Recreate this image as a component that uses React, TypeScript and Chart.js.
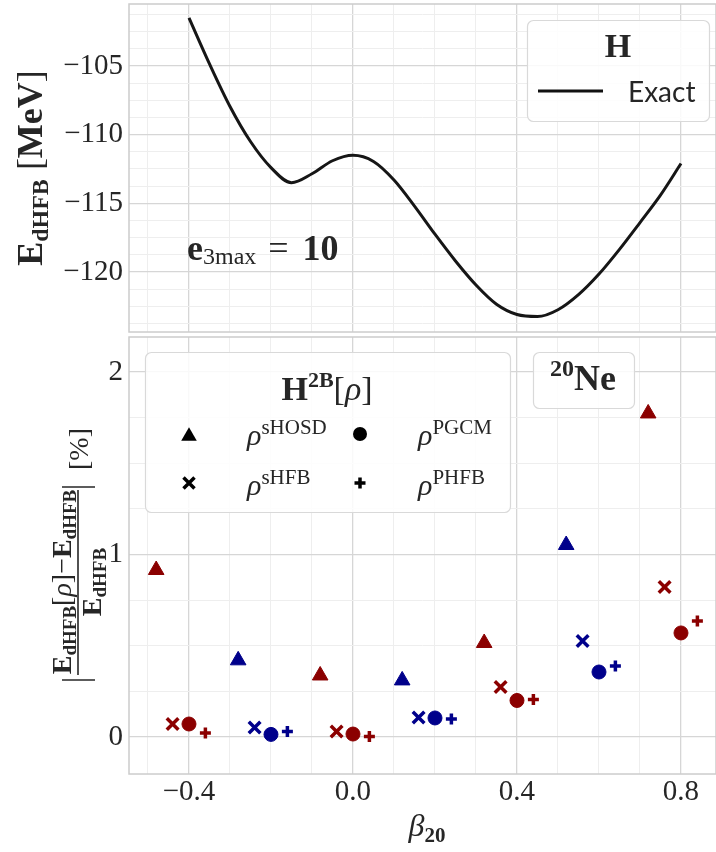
import React, { useEffect, useRef } from 'react';
import { Chart, registerables, ScatterController } from 'chart.js';

Chart.register(...registerables);
// keep the plot frame exactly where the layout puts it (markers never touch the edges)
(ScatterController.prototype as any).getMaxOverflow = function () { return 0; };

// ---------------- data ----------------
const betaCurve = [-0.4, -0.35, -0.3, -0.25, -0.2, -0.15, -0.1, -0.05, 0.0, 0.05, 0.1, 0.15, 0.2, 0.25, 0.3, 0.35, 0.4, 0.45, 0.5, 0.55, 0.6, 0.65, 0.7, 0.75, 0.8];
const energyExact = [-101.5, -104.85, -107.95, -110.5, -112.4, -113.5, -112.85, -111.9, -111.5, -111.95, -113.3, -115.2, -117.25, -119.2, -120.95, -122.35, -123.1, -123.25, -122.75, -121.65, -120.15, -118.35, -116.4, -114.4, -112.1];

const betaGroups = [-0.4, -0.2, 0.0, 0.2, 0.4, 0.6, 0.8];
const devHOSD = [0.915, 0.42, 0.337, 0.31, 0.515, 1.052, 1.773];
const devSHFB = [0.071, 0.052, 0.03, 0.107, 0.274, 0.526, 0.822];
const devPGCM = [0.071, 0.014, 0.016, 0.104, 0.2, 0.356, 0.57];
const devPHFB = [0.022, 0.03, 0.003, 0.099, 0.205, 0.389, 0.636];
const offsetHOSD = -0.08;
const offsetSHFB = -0.04;
const offsetPGCM = 0.0;
const offsetPHFB = 0.04;

const xTickLabels = [-0.4, 0.0, 0.4, 0.8];
const topYTickLabels = [-120, -115, -110, -105];
const bottomYTickLabels = [0, 1, 2];

// ---------------- style ----------------
const RED = '#8b0000';
const BLUE = '#00008b';
const colorCycle = [RED, BLUE];
const TEXT = '#262626';
const MAJOR = '#d6d6d6';
const MINOR = '#eeeeee';
const FRAME = '#cccccc';
const SERIF = '"Liberation Serif", "Times New Roman", serif';
const f = (size: number, weight = 'normal', style = 'normal') => `${style} ${weight} ${size}px ${SERIF}`;

const X_MIN = -0.5463, X_MAX = 0.8854;
const TOP_MIN = -124.37, TOP_MAX = -100.485;
const BOT_MIN = -0.203, BOT_MAX = 2.192;
const TOP_CANVAS_H = 336;
const BOT_CANVAS_H = 516;

function range(start: number, end: number, step: number, dec: number) {
  const out: number[] = [];
  for (let v = start; v <= end + 1e-9; v += step) out.push(Math.round(v * 10 ** dec) / 10 ** dec);
  return out;
}
const near = (a: number, list: number[]) => list.some((b) => Math.abs(a - b) < 1e-6);

type Seg = { t: string; f: string; dy?: number; gap?: number };
function richWidth(ctx: CanvasRenderingContext2D, segs: Seg[]) {
  let w = 0;
  for (const s of segs) { ctx.font = s.f; w += (s.gap || 0) + ctx.measureText(s.t).width; }
  return w;
}
function drawRich(ctx: CanvasRenderingContext2D, segs: Seg[], x: number, y: number, align: 'left' | 'center' | 'right' = 'left') {
  const w = richWidth(ctx, segs);
  let cx = align === 'center' ? x - w / 2 : align === 'right' ? x - w : x;
  ctx.textAlign = 'left';
  ctx.textBaseline = 'alphabetic';
  ctx.fillStyle = TEXT;
  for (const s of segs) {
    cx += s.gap || 0;
    ctx.font = s.f;
    ctx.fillText(s.t, cx, y + (s.dy || 0));
    cx += ctx.measureText(s.t).width;
  }
}
function rotated(ctx: CanvasRenderingContext2D, x: number, y: number, fn: () => void) {
  ctx.save();
  ctx.translate(x, y);
  ctx.rotate(-Math.PI / 2);
  fn();
  ctx.restore();
}
function box(ctx: CanvasRenderingContext2D, x0: number, y0: number, x1: number, y1: number) {
  ctx.save();
  ctx.beginPath();
  (ctx as any).roundRect(x0 + 0.5, y0 + 0.5, x1 - x0, y1 - y0, 6);
  ctx.fillStyle = 'rgba(255,255,255,0.85)';
  ctx.fill();
  ctx.strokeStyle = '#d9d9d9';
  ctx.lineWidth = 1.2;
  ctx.stroke();
  ctx.restore();
}
function frame(chart: any) {
  const { left, top, right, bottom } = chart.chartArea;
  const ctx = chart.ctx;
  ctx.save();
  ctx.strokeStyle = FRAME;
  ctx.lineWidth = 1.5;
  ctx.strokeRect(left, top, right - left, bottom - top);
  ctx.restore();
}
function line(ctx: CanvasRenderingContext2D, x0: number, y0: number, x1: number, y1: number, w: number, c = TEXT) {
  ctx.save();
  ctx.beginPath();
  ctx.moveTo(x0, y0);
  ctx.lineTo(x1, y1);
  ctx.strokeStyle = c;
  ctx.lineWidth = w;
  ctx.stroke();
  ctx.restore();
}
function marker(ctx: CanvasRenderingContext2D, kind: string, x: number, y: number) {
  ctx.save();
  ctx.fillStyle = '#000';
  ctx.strokeStyle = '#000';
  ctx.beginPath();
  if (kind === 'triangle') {
    const r = 9;
    ctx.moveTo(x, y - r * 0.75 - 1);
    ctx.lineTo(x + r * 0.866, y + r * 0.75 - 1);
    ctx.lineTo(x - r * 0.866, y + r * 0.75 - 1);
    ctx.closePath();
    ctx.fill();
  } else if (kind === 'circle') {
    ctx.arc(x, y, 7, 0, Math.PI * 2);
    ctx.fill();
  } else if (kind === 'x') {
    ctx.lineWidth = 3.5;
    ctx.moveTo(x - 5.5, y - 5.5); ctx.lineTo(x + 5.5, y + 5.5);
    ctx.moveTo(x + 5.5, y - 5.5); ctx.lineTo(x - 5.5, y + 5.5);
    ctx.stroke();
  } else {
    ctx.lineWidth = 3.5;
    ctx.moveTo(x - 5.5, y); ctx.lineTo(x + 5.5, y);
    ctx.moveTo(x, y - 5.5); ctx.lineTo(x, y + 5.5);
    ctx.stroke();
  }
  ctx.restore();
}

const xMinor = range(-0.5, 0.8, 0.1, 1);
const topMinor = range(-123.75, -101.25, 1.25, 2);
const botMinor = range(0, 2, 0.25, 2);

const xFmt = (v: number) => (v < 0 ? '\u2212' : '') + Math.abs(v).toFixed(1);

function xScale(showLabels: boolean, height: number) {
  return {
    type: 'linear',
    min: X_MIN,
    max: X_MAX,
    afterBuildTicks: (s: any) => { s.ticks = xMinor.map((v) => ({ value: v })); },
    afterFit: (s: any) => { s.height = height; s.paddingLeft = 0; s.paddingRight = 0; },
    border: { display: false },
    grid: {
      drawTicks: false,
      color: (c: any) => (near(c.tick.value, xTickLabels) ? MAJOR : MINOR),
      lineWidth: (c: any) => (near(c.tick.value, xTickLabels) ? 1.3 : 1),
    },
    ticks: {
      display: showLabels,
      autoSkip: false,
      maxRotation: 0,
      padding: 1,
      color: TEXT,
      font: { family: SERIF, size: 29 },
      callback: (v: number) => (near(v, xTickLabels) ? xFmt(v) : ''),
    },
  };
}
function yScale(min: number, max: number, ticks: number[], majors: number[], fmt: (v: number) => string) {
  return {
    type: 'linear',
    min,
    max,
    afterBuildTicks: (s: any) => { s.ticks = ticks.map((v) => ({ value: v })); },
    afterFit: (s: any) => { s.width = 129; s.paddingTop = 0; s.paddingBottom = 0; },
    border: { display: false },
    grid: {
      drawTicks: false,
      color: (c: any) => (near(c.tick.value, majors) ? MAJOR : MINOR),
      lineWidth: (c: any) => (near(c.tick.value, majors) ? 1.3 : 1),
    },
    ticks: {
      autoSkip: false,
      padding: 6,
      color: TEXT,
      font: { family: SERIF, size: 29 },
      callback: (v: number) => (near(v, majors) ? fmt(v) : ''),
    },
  };
}

const topPlugin = {
  id: 'topDecor',
  afterDraw(chart: any) {
    const ctx: CanvasRenderingContext2D = chart.ctx;
    frame(chart);
    rotated(ctx, 42, 168, () => {
      drawRich(ctx, [
        { t: 'E', f: f(36, 'bold') },
        { t: 'dHFB', f: f(24, 'bold'), dy: 6 },
        { t: '[', f: f(36), gap: 9 },
        { t: 'MeV', f: f(36, 'bold') },
        { t: ']', f: f(36) },
      ], 0, 0, 'center');
    });
    drawRich(ctx, [
      { t: 'e', f: f(36, 'bold') },
      { t: '3max', f: f(24), dy: 4 },
      { t: '=', f: f(36), gap: 12 },
      { t: '10', f: f(36, 'bold'), gap: 14 },
    ], 187, 260, 'left');
    box(ctx, 527, 20, 709, 121);
    drawRich(ctx, [{ t: 'H', f: f(34, 'bold') }], 618, 57, 'center');
    line(ctx, 538, 91, 603, 91, 3.2, '#111');
    ctx.save();
    ctx.font = '28px Lato, "Open Sans", sans-serif';
    ctx.fillStyle = TEXT;
    ctx.textBaseline = 'alphabetic';
    ctx.textAlign = 'left';
    ctx.fillText('Exact', 628, 102);
    ctx.restore();
  },
};

const OFF = TOP_CANVAS_H;
const bottomPlugin = {
  id: 'bottomDecor',
  afterDraw(chart: any) {
    const ctx: CanvasRenderingContext2D = chart.ctx;
    frame(chart);
    const sub = (t: string): Seg => ({ t, f: f(19, 'bold'), dy: 5 });
    rotated(ctx, 71, 582 - OFF, () => {
      drawRich(ctx, [
        { t: 'E', f: f(28, 'bold') }, sub('dHFB'),
        { t: '[', f: f(28) }, { t: '\u03c1', f: f(28, 'normal', 'italic') }, { t: ']', f: f(28) },
        { t: '\u2212', f: f(28) },
        { t: 'E', f: f(28, 'bold') }, sub('dHFB'),
      ], 0, 0, 'center');
    });
    rotated(ctx, 101, 582 - OFF, () => {
      drawRich(ctx, [{ t: 'E', f: f(28, 'bold') }, sub('dHFB')], 0, 0, 'center');
    });
    line(ctx, 78, 490 - OFF, 78, 675 - OFF, 1.6);
    line(ctx, 62, 680 - OFF, 95, 680 - OFF, 1.3);
    line(ctx, 62, 487 - OFF, 95, 487 - OFF, 1.3);
    rotated(ctx, 88, 449 - OFF, () => {
      drawRich(ctx, [{ t: '[%]', f: f(28) }], 0, 0, 'center');
    });
    drawRich(ctx, [
      { t: '\u03b2', f: f(32, 'normal', 'italic') },
      { t: '20', f: f(21, 'bold'), dy: 6 },
    ], 427, 836 - OFF, 'center');
    box(ctx, 145, 352 - OFF, 510, 512 - OFF);
    drawRich(ctx, [
      { t: 'H', f: f(34, 'bold') },
      { t: '2B', f: f(22, 'bold'), dy: -13 },
      { t: '[', f: f(34) },
      { t: '\u03c1', f: f(34, 'normal', 'italic') },
      { t: ']', f: f(34) },
    ], 327, 400 - OFF, 'center');
    marker(ctx, 'triangle', 189, 435 - OFF);
    marker(ctx, 'circle', 360, 434 - OFF);
    marker(ctx, 'x', 189, 483 - OFF);
    marker(ctx, 'plus', 360, 483 - OFF);
    const lab = (sup: string, x: number, y: number) =>
      drawRich(ctx, [
        { t: '\u03c1', f: f(30, 'normal', 'italic') },
        { t: sup, f: f(21), dy: -11 },
      ], x, y - OFF, 'left');
    lab('sHOSD', 247, 445);
    lab('PGCM', 418, 445);
    lab('sHFB', 247, 495);
    lab('PHFB', 418, 495);
    box(ctx, 533, 352 - OFF, 634, 408 - OFF);
    drawRich(ctx, [
      { t: '20', f: f(24, 'bold'), dy: -14 },
      { t: 'Ne', f: f(36, 'bold') },
    ], 583, 390 - OFF, 'center');
  },
};

function scatterSet(label: string, vals: number[], offset: number, style: string, radius: number, bw: number) {
  const cols = vals.map((_, i) => colorCycle[i % 2]);
  return {
    label,
    data: vals.map((v, i) => ({ x: betaGroups[i] + offset, y: v })),
    pointStyle: style,
    pointRadius: radius,
    pointBackgroundColor: cols,
    pointBorderColor: cols,
    pointBorderWidth: bw,
    showLine: false,
  };
}

export default function App() {
  const topRef = useRef<HTMLCanvasElement>(null);
  const botRef = useRef<HTMLCanvasElement>(null);

  useEffect(() => {
    const top = new Chart(topRef.current!, {
      type: 'line',
      data: {
        datasets: [{
          label: 'Exact',
          data: betaCurve.map((b, i) => ({ x: b, y: energyExact[i] })),
          borderColor: '#161616',
          borderWidth: 3,
          pointRadius: 0,
          cubicInterpolationMode: 'monotone',
          fill: false,
        }],
      },
      options: {
        responsive: false,
        animation: false,
        events: [],
        layout: { padding: { top: 4, bottom: 4, left: 0, right: 0 } },
        plugins: { legend: { display: false }, tooltip: { enabled: false } },
        scales: {
          x: xScale(false, 0) as any,
          y: yScale(TOP_MIN, TOP_MAX, topMinor, topYTickLabels, (v) => '\u2212' + Math.abs(v)) as any,
        },
      },
      plugins: [topPlugin],
    });

    const bot = new Chart(botRef.current!, {
      type: 'scatter',
      data: {
        datasets: [
          scatterSet('sHOSD', devHOSD, offsetHOSD, 'triangle', 9, 1),
          scatterSet('sHFB', devSHFB, offsetSHFB, 'crossRot', 8.2, 3.5),
          scatterSet('PGCM', devPGCM, offsetPGCM, 'circle', 7, 1),
          scatterSet('PHFB', devPHFB, offsetPHFB, 'cross', 5.5, 3.5),
        ] as any,
      },
      options: {
        responsive: false,
        animation: false,
        events: [],
        layout: { padding: { top: 1, bottom: 0, left: 0, right: 0 } },
        plugins: { legend: { display: false }, tooltip: { enabled: false } },
        scales: {
          x: xScale(true, BOT_CANVAS_H - (774 - TOP_CANVAS_H)) as any,
          y: yScale(BOT_MIN, BOT_MAX, botMinor, bottomYTickLabels, (v) => String(v)) as any,
        },
      },
      plugins: [bottomPlugin],
    });

    return () => { top.destroy(); bot.destroy(); };
  }, []);

  return (
    <div style={{ position: 'absolute', left: 0, top: 0, width: 716, height: 852, background: '#fff', overflow: 'hidden' }}>
      <canvas ref={topRef} width={716} height={TOP_CANVAS_H} style={{ position: 'absolute', left: 0, top: 0, display: 'block' }} />
      <canvas ref={botRef} width={716} height={BOT_CANVAS_H} style={{ position: 'absolute', left: 0, top: TOP_CANVAS_H, display: 'block' }} />
    </div>
  );
}
